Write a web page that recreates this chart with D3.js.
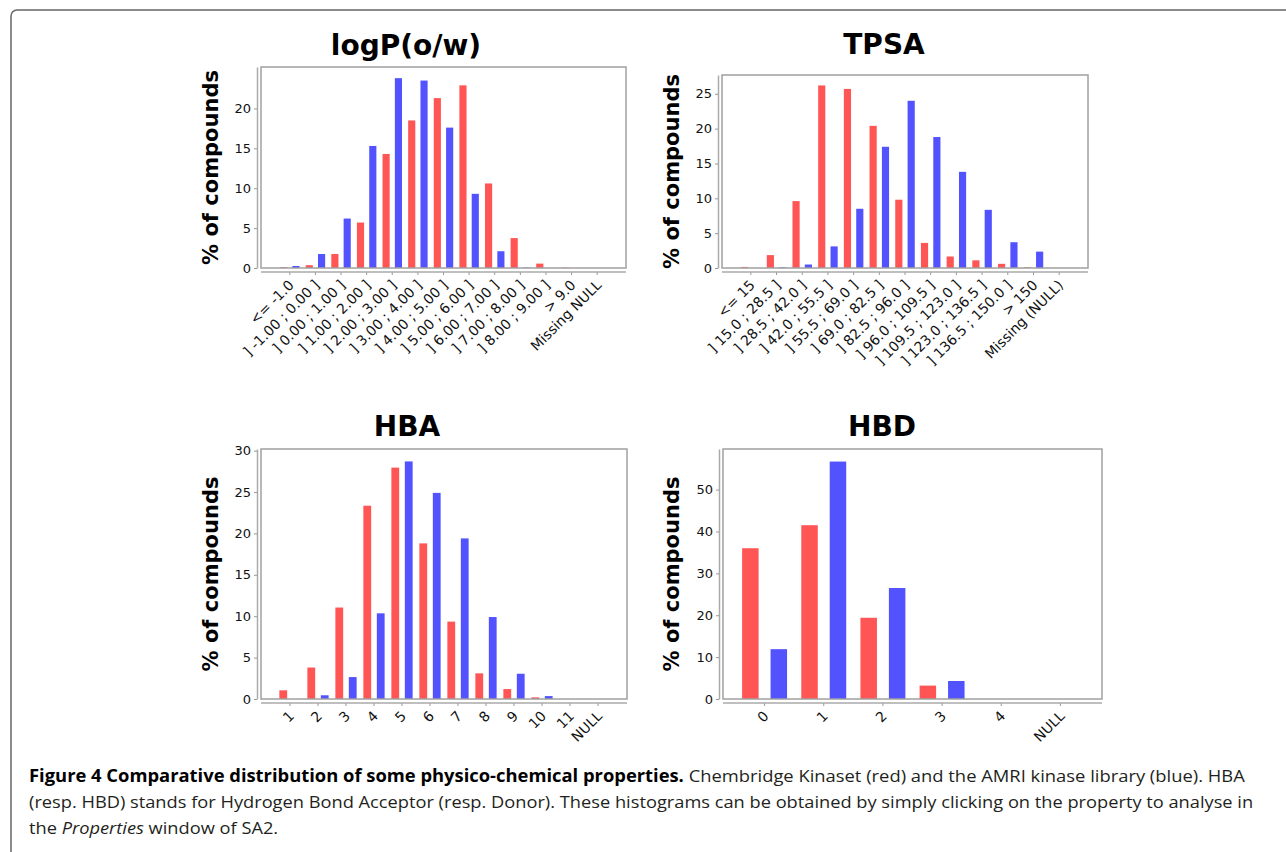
<!DOCTYPE html>
<html>
<head>
<meta charset="utf-8">
<script src="https://cdn.jsdelivr.net/npm/d3@7"></script>
<style>
  body { margin: 0; background: #fff; }
  svg { display: block; }
  .tick text { font-family: "DejaVu Sans", sans-serif; font-size: 13px; fill: #111; }
  .xax .tick text { font-size: 14px; }
  .tick line { stroke: #999; }
  .ttl { font-family: "DejaVu Sans", sans-serif; font-weight: bold; font-size: 28px; fill: #000; }
  .ylab { font-family: "DejaVu Sans", sans-serif; font-weight: bold; font-size: 21px; fill: #000; }
  .cap { font-family: "Open Sans", sans-serif; font-size: 17px; fill: #231f20; }
</style>
</head>
<body>
<svg id="fig" width="1286" height="852"></svg>
<script>
// ---- data (red = Chembridge Kinaset, blue = AMRI) ----
var logpCats = ["<= -1.0", "] -1.00 ; 0.00 ]", "] 0.00 ; 1.00 ]", "] 1.00 ; 2.00 ]", "] 2.00 ; 3.00 ]",
  "] 3.00 ; 4.00 ]", "] 4.00 ; 5.00 ]", "] 5.00 ; 6.00 ]", "] 6.00 ; 7.00 ]", "] 7.00 ; 8.00 ]",
  "] 8.00 ; 9.00 ]", "> 9.0", "Missing NULL"];
var logpRed  = [0.1, 0.35, 1.75, 5.7, 14.3, 18.5, 21.3, 22.9, 10.6, 3.75, 0.55, 0.05, 0];
var logpBlue = [0.25, 1.75, 6.2, 15.3, 23.8, 23.5, 17.6, 9.3, 2.1, 0.05, 0, 0, 0];
var logpTicks = [0, 5, 10, 15, 20];

var tpsaCats = ["<= 15", "] 15.0 ; 28.5 ]", "] 28.5 ; 42.0 ]", "] 42.0 ; 55.5 ]", "] 55.5 ; 69.0 ]",
  "] 69.0 ; 82.5 ]", "] 82.5 ; 96.0 ]", "] 96.0 ; 109.5 ]", "] 109.5 ; 123.0 ]", "] 123.0 ; 136.5 ]",
  "] 136.5 ; 150.0 ]", "> 150", "Missing (NULL)"];
var tpsaRed  = [0.15, 1.85, 9.6, 26.2, 25.7, 20.4, 9.8, 3.6, 1.65, 1.1, 0.6, 0.1, 0];
var tpsaBlue = [0, 0.1, 0.5, 3.1, 8.5, 17.4, 24.0, 18.8, 13.8, 8.35, 3.7, 2.35, 0];
var tpsaTicks = [0, 5, 10, 15, 20, 25];

var hbaCats = ["1", "2", "3", "4", "5", "6", "7", "8", "9", "10", "11", "NULL"];
var hbaRed  = [1.05, 3.8, 11.05, 23.35, 27.95, 18.8, 9.35, 3.1, 1.2, 0.2, 0, 0];
var hbaBlue = [0, 0.45, 2.65, 10.35, 28.7, 24.9, 19.4, 9.9, 3.05, 0.35, 0, 0];
var hbaTicks = [0, 5, 10, 15, 20, 25, 30];

var hbdCats = ["0", "1", "2", "3", "4", "NULL"];
var hbdRed  = [36.0, 41.5, 19.4, 3.2, 0, 0];
var hbdBlue = [11.9, 56.7, 26.5, 4.3, 0, 0];
var hbdTicks = [0, 10, 20, 30, 40, 50];

var svg = d3.select("#fig");

// outer frame of the figure box
svg.append("rect")
  .attr("x", 11).attr("y", 10).attr("width", 1300).attr("height", 870)
  .attr("rx", 6)
  .attr("fill", "none").attr("stroke", "#666").attr("stroke-width", 1.5);

var drawPanel = function (p) {
  var g = svg.append("g");

  var x = d3.scaleBand()
    .domain(p.cats)
    .range([p.x0 + p.pad, p.x1 - p.pad]);
  var inner = d3.scaleBand()
    .domain(["red", "blue"])
    .range([0, x.bandwidth()])
    .paddingInner(0.42)
    .paddingOuter(0.25);
  var y = d3.scaleLinear()
    .domain([0, p.ymax])
    .range([p.y1, p.y0]);

  // bars
  var rows = p.cats.map(function (c, i) {
    return [{ cat: c, s: "red", v: p.red[i] }, { cat: c, s: "blue", v: p.blue[i] }];
  });
  g.selectAll(".bar")
    .data(d3.merge(rows).filter(function (d) { return d.v > 0; }))
    .enter().append("rect")
    .attr("class", "bar")
    .attr("x", function (d) { return x(d.cat) + inner(d.s); })
    .attr("width", inner.bandwidth())
    .attr("y", function (d) { return y(d.v); })
    .attr("height", function (d) { return y(0) - y(d.v); })
    .attr("fill", function (d) { return d.s == "red" ? "#ff5555" : "#5252ff"; });

  // plot frame
  g.append("rect")
    .attr("x", p.x0).attr("y", p.y0)
    .attr("width", p.x1 - p.x0).attr("height", p.y1 - p.y0)
    .attr("fill", "none").attr("stroke", "#a0a0a0").attr("stroke-width", 1.5);

  // y axis, detached a little to the left
  var ya = g.append("g")
    .attr("transform", "translate(" + (p.x0 - 4) + ",0)")
    .call(d3.axisLeft(y).tickValues(p.ticks).tickSize(3).tickSizeOuter(0).tickPadding(3));
  ya.select(".domain").attr("stroke", "#aaa").attr("stroke-width", 1.5);

  // x axis, detached a little below
  var xa = g.append("g")
    .attr("class", "xax")
    .attr("transform", "translate(0," + (p.y1 + 4) + ")")
    .call(d3.axisBottom(x).tickSize(3).tickSizeOuter(0));
  xa.select(".domain").remove();
  xa.append("line")
    .attr("x1", p.x0).attr("x2", p.x1)
    .attr("stroke", "#aaa").attr("stroke-width", 1.5);
  xa.selectAll(".tick text")
    .attr("y", 0).attr("dy", 0)
    .attr("text-anchor", "end")
    .attr("transform", "translate(5,14) rotate(-45)");

  // title and y label
  svg.append("text").attr("class", "ttl")
    .attr("x", p.tx).attr("y", p.ty)
    .attr("text-anchor", "middle")
    .text(p.title);
  svg.append("text").attr("class", "ylab")
    .attr("transform", "translate(" + p.lx + "," + ((p.y0 + p.y1) / 2) + ") rotate(-90)")
    .attr("text-anchor", "middle")
    .text("% of compounds");
};

drawPanel({ title: "logP(o/w)", cats: logpCats, red: logpRed, blue: logpBlue, ticks: logpTicks, ymax: 25.2,
  x0: 261, x1: 626, y0: 67, y1: 268, pad: 16, tx: 406, ty: 55, lx: 218 });
drawPanel({ title: "TPSA", cats: tpsaCats, red: tpsaRed, blue: tpsaBlue, ticks: tpsaTicks, ymax: 27.7,
  x0: 722, x1: 1088, y0: 75, y1: 268, pad: 16, tx: 884, ty: 54, lx: 679 });
drawPanel({ title: "HBA", cats: hbaCats, red: hbaRed, blue: hbaBlue, ticks: hbaTicks, ymax: 30.2,
  x0: 261, x1: 627, y0: 449, y1: 699, pad: 15, tx: 407, ty: 436, lx: 218 });
drawPanel({ title: "HBD", cats: hbdCats, red: hbdRed, blue: hbdBlue, ticks: hbdTicks, ymax: 59.7,
  x0: 723, x1: 1102, y0: 449, y1: 699, pad: 12, tx: 882, ty: 436, lx: 679 });

// ---- caption ----
var capLines = [
  [{ t: "Figure 4 Comparative distribution of some physico-chemical properties.", b: true },
   { t: " Chembridge Kinaset (red) and the AMRI kinase library (blue). HBA" }],
  [{ t: "(resp. HBD) stands for Hydrogen Bond Acceptor (resp. Donor). These histograms can be obtained by simply clicking on the property to analyse in" }],
  [{ t: "the " }, { t: "Properties", i: true }, { t: " window of SA2." }]
];
var capWidths = [1217, 1225, null];
var capBase = [782, 808, 834];
var k = 1;
capLines.forEach(function (line, li) {
  var t = svg.append("text").attr("class", "cap").attr("x", 0).attr("y", 0);
  line.forEach(function (s) {
    var ts = t.append("tspan").text(s.t);
    if (s.b) ts.attr("font-weight", "bold").attr("fill", "#000");
    if (s.i) ts.attr("font-style", "italic");
  });
  if (capWidths[li]) k = capWidths[li] / t.node().getComputedTextLength();
  t.attr("transform", "translate(29," + capBase[li] + ") scale(" + k + ",1)");
});
</script>
</body>
</html>
